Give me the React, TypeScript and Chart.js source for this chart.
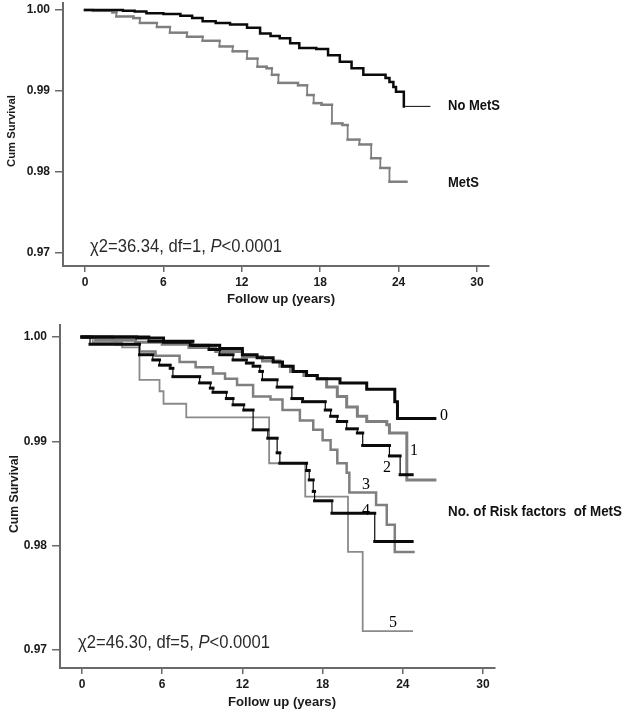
import React, { useEffect, useRef } from 'react';
import { Chart, registerables } from 'chart.js';

Chart.register(...registerables);

// ---------- shared axis ticks ----------
const xTickValues = [0, 6, 12, 18, 24, 30];
const yTickValues = [0.97, 0.98, 0.99, 1.0];

// ---------- top panel: MetS vs No MetS ----------
const noMetsTime = [0, 2.9, 3.8, 4.7, 6.0, 7.3, 8.2, 9.0, 10.0, 11.1, 12.4, 13.4, 14.2, 14.9, 15.7, 16.4, 17.7, 18.6, 19.5, 20.4, 21.3, 23.0, 23.3, 23.6, 23.8, 24.4];
const noMetsSurv = [1.0, 0.9999, 0.9998, 0.9996, 0.9995, 0.9993, 0.999, 0.9986, 0.9984, 0.9982, 0.9978, 0.9971, 0.9968, 0.9965, 0.9959, 0.9953, 0.9952, 0.9944, 0.9936, 0.9928, 0.992, 0.9916, 0.9911, 0.9905, 0.9899, 0.9881];
const noMetsEnd = 26.4;

const metsTime = [0, 0.6, 2.1, 2.4, 3.7, 4.2, 5.5, 6.5, 7.8, 9.0, 10.3, 11.3, 12.4, 13.2, 13.9, 14.3, 14.8, 16.3, 17.0, 17.5, 18.1, 18.9, 19.7, 20.1, 21.0, 21.9, 22.6, 23.3];
const metsSurv = [1.0, 0.9999, 0.9997, 0.9992, 0.999, 0.9984, 0.9979, 0.9972, 0.9967, 0.9962, 0.9955, 0.9949, 0.994, 0.993, 0.9928, 0.992, 0.991, 0.9907, 0.9895, 0.9885, 0.9883, 0.986, 0.9858, 0.984, 0.9834, 0.9817, 0.9805, 0.9788];
const metsEnd = 24.6;

// ---------- bottom panel: number of risk factors ----------
const rf0Time = [0, 4.1, 6.1, 8.1, 10.3, 12.0, 13.1, 14.3, 15.0, 15.8, 16.8, 17.6, 19.3, 21.3, 23.4, 23.6];
const rf0Surv = [1.0, 0.9999, 0.9995, 0.9992, 0.9989, 0.9983, 0.998, 0.9976, 0.9972, 0.9967, 0.9963, 0.996, 0.9956, 0.995, 0.9938, 0.9922];
const rf0End = 26.4;

const rf1Time = [0, 2.3, 4.0, 6.0, 8.0, 10.0, 12.0, 13.5, 14.8, 15.6, 16.6, 17.6, 18.3, 19.1, 19.8, 20.6, 21.3, 22.8, 23.0, 24.3];
const rf1Surv = [1.0, 0.9997, 0.9995, 0.9993, 0.999, 0.9986, 0.9981, 0.9977, 0.9972, 0.9967, 0.9963, 0.996, 0.9952, 0.9943, 0.9933, 0.9924, 0.9919, 0.9916, 0.9908, 0.9863];
const rf1End = 26.4;

const rf2Time = [0, 5.0, 8.3, 9.5, 10.3, 11.3, 12.3, 12.8, 13.3, 13.5, 14.6, 15.7, 16.5, 18.2, 18.6, 19.1, 19.8, 20.6, 21.0, 23.0, 23.8];
const rf2Surv = [1.0, 0.9996, 0.9992, 0.9988, 0.9983, 0.9978, 0.9975, 0.9972, 0.9967, 0.9959, 0.9952, 0.9941, 0.9938, 0.993, 0.9924, 0.9919, 0.9912, 0.9908, 0.9896, 0.9886, 0.9868];
const rf2End = 24.7;

const rf3Time = [0, 1.0, 2.5, 4.3, 5.5, 7.3, 8.5, 9.8, 10.7, 11.6, 12.8, 14.1, 15.0, 16.3, 17.3, 18.0, 18.6, 19.1, 19.8, 20.0, 22.0, 22.8, 23.4];
const rf3Surv = [1.0, 0.9997, 0.9993, 0.9986, 0.9982, 0.9976, 0.9971, 0.9965, 0.996, 0.9954, 0.9943, 0.994, 0.993, 0.992, 0.9911, 0.9901, 0.9892, 0.9879, 0.987, 0.9851, 0.9839, 0.982, 0.9794];
const rf3End = 24.8;

const rf4Time = [0, 0.6, 4.3, 5.3, 5.8, 6.6, 6.8, 8.8, 9.6, 9.8, 10.8, 11.3, 12.1, 12.8, 13.9, 14.6, 14.8, 16.8, 17.0, 17.3, 17.4, 18.7, 21.9];
const rf4Surv = [1.0, 0.9993, 0.9983, 0.9978, 0.9973, 0.997, 0.9962, 0.9956, 0.9951, 0.9947, 0.9941, 0.9935, 0.993, 0.9911, 0.9903, 0.9889, 0.9879, 0.9872, 0.9863, 0.9852, 0.9843, 0.9831, 0.9804];
const rf4End = 24.7;

const rf5Time = [0, 0.8, 3.0, 4.3, 5.8, 6.1, 7.8, 14.0, 16.7, 19.9, 21.0];
const rf5Surv = [1.0, 0.9995, 0.999, 0.9959, 0.9948, 0.9936, 0.9923, 0.9879, 0.9847, 0.9794, 0.9718];
const rf5End = 24.7;

// ---------- texts ----------
const yTitle = 'Cum Survival';
const xTitle = 'Follow up (years)';
const topStat = ['χ2=36.34, df=1, ', 'P', '<0.0001'];
const bottomStat = ['χ2=46.30, df=5, ', 'P', '<0.0001'];
const topLabels = ['No MetS', 'MetS'];
const bottomTitle = 'No. of Risk factors  of MetS';
const groupLabels = ['0', '1', '2', '3', '4', '5'];

const SANS = '"Liberation Sans", Arial, sans-serif';
const SERIF = '"Liberation Serif", "Times New Roman", serif';
const BLACK = '#0a0a0a';
const GRAY = '#7f7f7f';

type Curve = { time: number[]; surv: number[]; end: number; color: string; width: number; vWidth: number; tailWidth: number };
type Part = { t: string; italic?: boolean };
type Label = { parts: Part[]; x: number; y: number; size: number; weight: string; family: string; color: string; width?: number; center?: boolean; rotate?: boolean };
type Geom = { height: number; shift: number; left: number; top: number; right: number; bottom: number; xMin: number; xMax: number; yMin: number; yMax: number };

function stepPoints(time: number[], surv: number[], end: number) {
  const pts: { x: number; y: number }[] = [];
  for (let i = 0; i < time.length; i++) {
    if (i === 0) pts.push({ x: time[0], y: surv[0] });
    else {
      pts.push({ x: time[i], y: surv[i - 1] });
      pts.push({ x: time[i], y: surv[i] });
    }
  }
  pts.push({ x: end, y: surv[surv.length - 1] });
  return pts;
}

function drawLabel(ctx: CanvasRenderingContext2D, l: Label, dy: number) {
  ctx.save();
  const fontFor = (p: Part) => `${p.italic ? 'italic ' : ''}${l.weight} ${l.size}px ${l.family}`;
  let total = 0;
  for (const p of l.parts) {
    ctx.font = fontFor(p);
    total += ctx.measureText(p.t).width;
  }
  const sx = l.width ? l.width / total : 1;
  ctx.translate(l.x, l.y + dy);
  if (l.rotate) ctx.rotate(-Math.PI / 2);
  ctx.scale(sx, 1);
  let x = l.center ? -total / 2 : 0;
  ctx.textBaseline = 'middle';
  ctx.textAlign = 'left';
  ctx.fillStyle = l.color;
  for (const p of l.parts) {
    ctx.font = fontFor(p);
    ctx.fillText(p.t, x, 0);
    x += ctx.measureText(p.t).width;
  }
  ctx.restore();
}

function buildConfig(curves: Curve[], g: Geom, labels: Label[]): any {
  const tickFont = { family: SANS, size: 12, weight: 'bold' as const };
  return {
    type: 'line',
    data: {
      datasets: curves.map((c) => {
        const lastEvent = c.time[c.time.length - 1];
        return {
          data: stepPoints(c.time, c.surv, c.end),
          borderColor: c.color,
          borderWidth: c.width,
          pointRadius: 0,
          tension: 0,
          fill: false,
          borderCapStyle: 'square',
          segment: {
            borderWidth: (ctx: any) =>
              ctx.p0.parsed.x === ctx.p1.parsed.x ? c.vWidth : ctx.p0.parsed.x >= lastEvent ? c.tailWidth : c.width,
          },
        };
      }),
    },
    options: {
      responsive: false,
      animation: false,
      layout: { padding: { left: 0, top: g.top + g.shift, right: 624 - g.right, bottom: 0 }, autoPadding: false },
      plugins: { legend: { display: false }, tooltip: { enabled: false } },
      scales: {
        x: {
          type: 'linear',
          min: g.xMin,
          max: g.xMax,
          afterBuildTicks: (s: any) => {
            s.ticks = xTickValues.map((v) => ({ value: v }));
          },
          afterFit: (s: any) => {
            s.height = g.height - g.bottom;
          },
          ticks: { font: tickFont, color: '#1a1a1a', padding: 3, autoSkip: false, maxRotation: 0, callback: (v: any) => String(v) },
          grid: { drawOnChartArea: false, drawTicks: true, tickLength: 6, color: '#6a6a6a', lineWidth: 1.5 },
          border: { display: true, color: '#6a6a6a', width: 2 },
        },
        y: {
          type: 'linear',
          min: g.yMin,
          max: g.yMax,
          afterBuildTicks: (s: any) => {
            s.ticks = yTickValues.map((v) => ({ value: v }));
          },
          afterFit: (s: any) => {
            s.width = g.left;
          },
          ticks: { font: tickFont, color: '#1a1a1a', padding: 5, autoSkip: false, callback: (v: any) => Number(v).toFixed(2) },
          grid: { drawOnChartArea: false, drawTicks: true, tickLength: 8, color: '#6a6a6a', lineWidth: 1.5 },
          border: { display: true, color: '#6a6a6a', width: 2 },
        },
      },
    },
    plugins: [
      {
        id: 'kmLabels',
        afterDraw: (chart: any) => {
          for (const l of labels) drawLabel(chart.ctx, l, g.shift);
        },
      },
    ],
  };
}

// top canvas is drawn 10px higher than the page top (negative margin) so its plot area can start at y=3
const topGeom: Geom = {
  height: 312, shift: 10, left: 63, top: 3, right: 489, bottom: 266,
  xMin: -22 / 13.067, xMax: 404 / 13.067,
  yMin: 0.97 - 13 / 8100, yMax: 1 + 7 / 8100,
};
const bottomGeom: Geom = {
  height: 402, shift: 0, left: 60, top: 13, right: 495, bottom: 356,
  xMin: -22 / 13.367, xMax: 413 / 13.367,
  yMin: 0.97 - 18 / 10433, yMax: 1 + 12 / 10433,
};

const topCurves: Curve[] = [
  { time: noMetsTime, surv: noMetsSurv, end: noMetsEnd, color: BLACK, width: 2.5, vWidth: 2.5, tailWidth: 1 },
  { time: metsTime, surv: metsSurv, end: metsEnd, color: GRAY, width: 2.5, vWidth: 1.8, tailWidth: 2.5 },
];
const bottomCurves: Curve[] = [
  { time: rf0Time, surv: rf0Surv, end: rf0End, color: BLACK, width: 3, vWidth: 3, tailWidth: 3 },
  { time: rf2Time, surv: rf2Surv, end: rf2End, color: BLACK, width: 3, vWidth: 1.2, tailWidth: 3 },
  { time: rf4Time, surv: rf4Surv, end: rf4End, color: BLACK, width: 3, vWidth: 1.2, tailWidth: 3 },
  { time: rf1Time, surv: rf1Surv, end: rf1End, color: GRAY, width: 3, vWidth: 3, tailWidth: 3 },
  { time: rf3Time, surv: rf3Surv, end: rf3End, color: GRAY, width: 2.5, vWidth: 2.5, tailWidth: 2.5 },
  { time: rf5Time, surv: rf5Surv, end: rf5End, color: '#8a8a8a', width: 1.8, vWidth: 1.8, tailWidth: 1.8 },
];

const statParts = (s: string[]): Part[] => [{ t: s[0] }, { t: s[1], italic: true }, { t: s[2] }];

const topLabelList: Label[] = [
  { parts: [{ t: yTitle }], x: 12, y: 131, size: 11, weight: 'bold', family: SANS, color: '#1a1a1a', width: 72, center: true, rotate: true },
  { parts: [{ t: xTitle }], x: 281, y: 300, size: 12, weight: 'bold', family: SANS, color: '#1a1a1a', width: 108, center: true },
  { parts: statParts(topStat), x: 90, y: 247, size: 18, weight: 'normal', family: SANS, color: '#2a2a2a', width: 192 },
  { parts: [{ t: topLabels[0] }], x: 448, y: 106, size: 15, weight: 'bold', family: SANS, color: '#111', width: 52 },
  { parts: [{ t: topLabels[1] }], x: 448, y: 183, size: 15, weight: 'bold', family: SANS, color: '#111', width: 31 },
];

const off = 312;
const bottomLabelList: Label[] = [
  { parts: [{ t: yTitle }], x: 15, y: 494 - off, size: 12, weight: 'bold', family: SANS, color: '#1a1a1a', width: 78, center: true, rotate: true },
  { parts: [{ t: xTitle }], x: 282, y: 703 - off, size: 12, weight: 'bold', family: SANS, color: '#1a1a1a', width: 108, center: true },
  { parts: statParts(bottomStat), x: 78, y: 643 - off, size: 18, weight: 'normal', family: SANS, color: '#2a2a2a', width: 192 },
  { parts: [{ t: bottomTitle }], x: 448, y: 512 - off, size: 15, weight: 'bold', family: SANS, color: '#111', width: 174 },
  { parts: [{ t: groupLabels[0] }], x: 440, y: 416 - off, size: 16, weight: 'normal', family: SERIF, color: '#000' },
  { parts: [{ t: groupLabels[1] }], x: 410, y: 451 - off, size: 16, weight: 'normal', family: SERIF, color: '#000' },
  { parts: [{ t: groupLabels[2] }], x: 383, y: 468 - off, size: 16, weight: 'normal', family: SERIF, color: '#000' },
  { parts: [{ t: groupLabels[3] }], x: 362, y: 485 - off, size: 16, weight: 'normal', family: SERIF, color: '#000' },
  { parts: [{ t: groupLabels[4] }], x: 362, y: 511 - off, size: 16, weight: 'normal', family: SERIF, color: '#000' },
  { parts: [{ t: groupLabels[5] }], x: 389, y: 623 - off, size: 16, weight: 'normal', family: SERIF, color: '#000' },
];

function KMChart({ curves, geom, labels }: { curves: Curve[]; geom: Geom; labels: Label[] }) {
  const ref = useRef<HTMLCanvasElement | null>(null);
  useEffect(() => {
    if (!ref.current) return;
    const chart = new Chart(ref.current, buildConfig(curves, geom, labels));
    return () => chart.destroy();
  }, [curves, geom, labels]);
  const h = geom.height + geom.shift;
  return (
    <canvas
      ref={ref}
      width={624}
      height={h}
      style={{ display: 'block', width: 624, height: h, marginTop: -geom.shift }}
    />
  );
}

export default function App() {
  return (
    <div style={{ position: 'fixed', left: 0, top: 0, width: 624, height: 714, background: '#fff', overflow: 'hidden' }}>
      <KMChart curves={topCurves} geom={topGeom} labels={topLabelList} />
      <KMChart curves={bottomCurves} geom={bottomGeom} labels={bottomLabelList} />
    </div>
  );
}
